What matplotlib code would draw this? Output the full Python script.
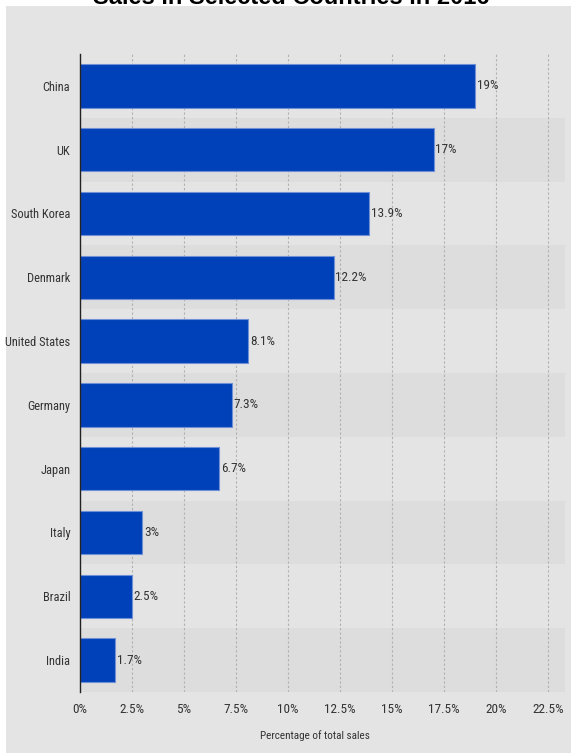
import matplotlib
matplotlib.use("Agg")
import matplotlib.pyplot as plt
from matplotlib.patches import Rectangle

countries = ["China", "UK", "South Korea", "Denmark", "United States",
             "Germany", "Japan", "Italy", "Brazil", "India"]
values = [19, 17, 13.9, 12.2, 8.1, 7.3, 6.7, 3, 2.5, 1.7]
value_labels = ["19%", "17%", "13.9%", "12.2%", "8.1%", "7.3%", "6.7%", "3%", "2.5%", "1.7%"]
xticks = [0, 2.5, 5, 7.5, 10, 12.5, 15, 17.5, 20, 22.5]
xtick_labels = ["0%", "2.5%", "5%", "7.5%", "10%", "12.5%", "15%", "17.5%", "20%", "22.5%"]
title = "Sales in Selected Countries in 2016"
xlabel = "Percentage of total sales"

W, H = 571, 753
fig = plt.figure(figsize=(W / 100, H / 100), dpi=100)
fig.patch.set_facecolor("white")

bg = "#e4e4e4"
fig.patches.append(Rectangle((6 / W, 0), 1 - 6 / W, 1 - 6 / H,
                             transform=fig.transFigure, facecolor=bg,
                             edgecolor="none", zorder=-10))

narrow = ["Open Sans Condensed Light", "Roboto Condensed", "PT Sans Narrow",
          "Archivo Narrow", "Open Sans Condensed", "DejaVu Sans"]
fs = 9.5
fs_y = 8.9
fw = "normal"

left, right = 80 / W, 565 / W
top, bottom = 1 - 54 / H, 1 - 692 / H
ax = fig.add_axes([left, bottom, right - left, top - bottom])
ax.set_zorder(1)
ax.set_facecolor(bg)

n = len(countries)
ypos = list(range(n))
px_per_unit = (548 - 80) / 22.5
xmax = (565 - 80) / px_per_unit
ax.set_xlim(0, xmax)
ax.set_ylim(n - 0.5, -0.5)

for i in ypos:
    if i % 2 == 1:
        ax.axhspan(i - 0.5, i + 0.5, color="#dddddd", zorder=0, lw=0)

for t in xticks[1:]:
    ax.axvline(t, color="#b0b0b0", lw=0.8, ls=(0, (2, 2)), zorder=1)

ax.barh(ypos, values, height=0.68, color="#0040b8",
        edgecolor="#6f8fd6", linewidth=0.8, zorder=2)

for i, (v, lab) in enumerate(zip(values, value_labels)):
    ax.text(v + 0.08, i, lab, va="center", ha="left", fontsize=fs,
            fontweight=fw, color="#333333", family=narrow, zorder=3)

for s in ["top", "right", "bottom"]:
    ax.spines[s].set_visible(False)
ax.spines["left"].set_color("#222222")
ax.spines["left"].set_linewidth(1.0)
ax.spines["left"].set_zorder(4)

ax.set_yticks(ypos)
ax.set_yticklabels(countries, family=narrow, fontsize=fs_y, fontweight=fw,
                   color="#333333")
ax.set_xticks(xticks)
ax.set_xticklabels(xtick_labels, family=narrow, fontsize=fs, fontweight=fw,
                   color="#333333")
ax.tick_params(axis="both", length=0)
ax.tick_params(axis="y", pad=7)
ax.tick_params(axis="x", pad=8)
ax.set_xlabel(xlabel, family=narrow, fontsize=8, fontweight=fw, color="#333333")
ax.xaxis.set_label_coords((315 - 80) / (565 - 80), -(730 - 692) / (692 - 54))

fig.text(291 / W, 1 - 4 / H, title, ha="center", va="baseline",
         fontsize=17, fontweight="bold", color="black",
         family=["Liberation Sans", "DejaVu Sans"])

fig.savefig("out.png", dpi=100)
